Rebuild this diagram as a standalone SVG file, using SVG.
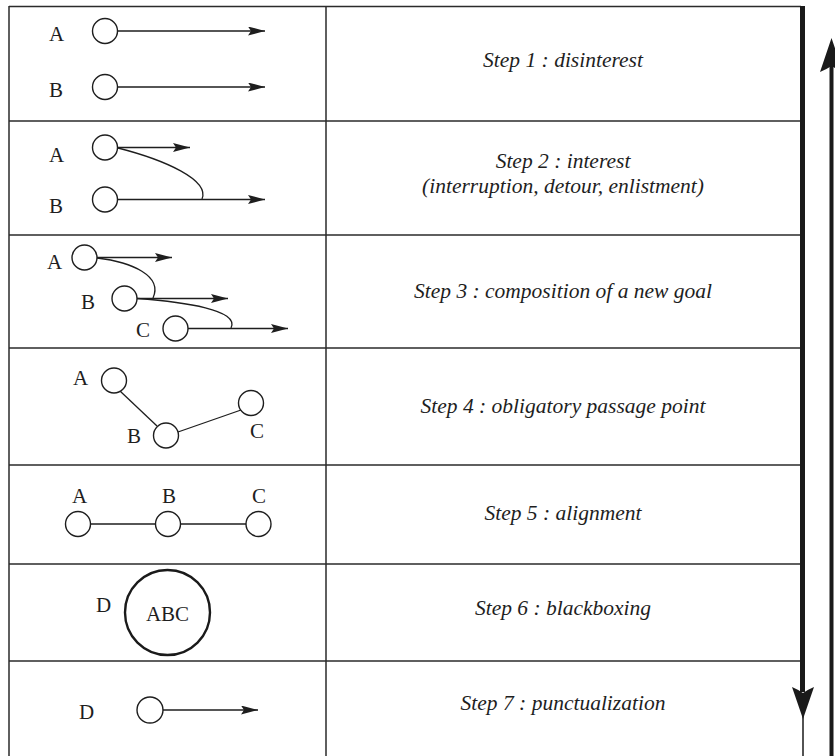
<svg xmlns="http://www.w3.org/2000/svg" width="835" height="756" viewBox="0 0 835 756">
  <style>
    .grid { stroke: #2b2b2b; stroke-width: 1.5; fill: none; }
    .node { fill: #fff; stroke: #1e1e1e; stroke-width: 1.4; }
    .big { fill: #fff; stroke: #1a1a1a; stroke-width: 2.4; }
    .link { stroke: #1e1e1e; stroke-width: 1.3; fill: none; }
    .lbl { font-family: "Liberation Serif", "Times New Roman", serif; font-size: 21px; fill: #1e1e1e; }
    .step { font-family: "Liberation Serif", "Times New Roman", serif; font-style: italic; font-size: 21.5px; fill: #1e1e1e; text-anchor: middle; }
  </style>
  <defs>
    <marker id="head" viewBox="0 0 17 9" refX="17" refY="4.5" markerWidth="17" markerHeight="9" markerUnits="userSpaceOnUse" orient="auto">
      <path d="M0,0 L17,4.5 L0,9 L3,4.5 Z" fill="#1e1e1e"/>
    </marker>
  </defs>

  <rect width="835" height="756" fill="#fff"/>

  <!-- table frame -->
  <g id="table">
    <path class="grid" d="M9,6.5 H801 M9,6 V756 M326,6 V756"/>
    <path class="grid" d="M9,121 H801 M9,235 H801 M9,348 H801 M9,465 H801 M9,564 H801 M9,661 H801"/>
  </g>

  <!-- side arrows: thick downward border, upward arrow at far right -->
  <g id="side-arrows">
    <line x1="802.5" y1="6" x2="802.5" y2="692" stroke="#1a1a1a" stroke-width="5"/>
    <path d="M792,687 Q799,690 803,693 Q807,690 814,687 L803,719 Z" fill="#1a1a1a"/>
    <line x1="803" y1="715" x2="803" y2="756" stroke="#1a1a1a" stroke-width="1.5"/>
    <line x1="831.5" y1="66" x2="831.5" y2="756" stroke="#1a1a1a" stroke-width="4"/>
    <path d="M820,72 Q827,69 831.5,66 Q836,69 843,72 L831.5,38 Z" fill="#1a1a1a"/>
  </g>

  <!-- step 1 -->
  <g id="step1">
    <text class="lbl" x="49" y="41">A</text>
    <text class="lbl" x="49" y="97">B</text>
    <line class="link" x1="117" y1="31" x2="265" y2="31" marker-end="url(#head)"/>
    <line class="link" x1="117" y1="87" x2="265" y2="87" marker-end="url(#head)"/>
    <circle class="node" cx="105" cy="31" r="12.5"/>
    <circle class="node" cx="105" cy="87" r="12.5"/>
    <text class="step" x="563" y="67">Step 1 : disinterest</text>
  </g>

  <!-- step 2 -->
  <g id="step2">
    <text class="lbl" x="49" y="162">A</text>
    <text class="lbl" x="49" y="213">B</text>
    <line class="link" x1="117" y1="147.5" x2="190" y2="147.5" marker-end="url(#head)"/>
    <path class="link" d="M118,148 C165,160 210,180 202,199"/>
    <line class="link" x1="117" y1="199.5" x2="265" y2="199.5" marker-end="url(#head)"/>
    <circle class="node" cx="105" cy="147.5" r="12.5"/>
    <circle class="node" cx="105" cy="199.5" r="12.5"/>
    <text class="step" x="563" y="168">Step 2 : interest</text>
    <text class="step" x="563" y="193">(interruption, detour, enlistment)</text>
  </g>

  <!-- step 3 -->
  <g id="step3">
    <text class="lbl" x="47" y="269">A</text>
    <text class="lbl" x="81" y="309">B</text>
    <text class="lbl" x="136" y="337">C</text>
    <line class="link" x1="97" y1="257.5" x2="172" y2="257.5" marker-end="url(#head)"/>
    <path class="link" d="M97,258 C132,262 163,276 153,298"/>
    <line class="link" x1="137" y1="298.5" x2="228" y2="298.5" marker-end="url(#head)"/>
    <path class="link" d="M137,298.5 C185,302 240,310 231,328"/>
    <line class="link" x1="188" y1="328.5" x2="288" y2="328.5" stroke-width="2" marker-end="url(#head)"/>
    <circle class="node" cx="84.5" cy="257.5" r="12.5"/>
    <circle class="node" cx="124.5" cy="298.5" r="12.5"/>
    <circle class="node" cx="175.5" cy="328.5" r="12.5"/>
    <text class="step" x="563" y="298">Step 3 : composition of a new goal</text>
  </g>

  <!-- step 4 -->
  <g id="step4">
    <text class="lbl" x="73" y="385">A</text>
    <text class="lbl" x="127" y="443">B</text>
    <text class="lbl" x="250" y="438">C</text>
    <line class="link" x1="120" y1="391" x2="157" y2="426"/>
    <line class="link" x1="178" y1="432" x2="241" y2="410"/>
    <circle class="node" cx="114" cy="380.5" r="12.5"/>
    <circle class="node" cx="166" cy="435.5" r="12.5"/>
    <circle class="node" cx="251" cy="403" r="12.5"/>
    <text class="step" x="563" y="413">Step 4 : obligatory passage point</text>
  </g>

  <!-- step 5 -->
  <g id="step5">
    <text class="lbl" x="72" y="503">A</text>
    <text class="lbl" x="162" y="503">B</text>
    <text class="lbl" x="252" y="503">C</text>
    <line class="link" x1="90" y1="524" x2="246" y2="524"/>
    <circle class="node" cx="78" cy="524" r="12.5"/>
    <circle class="node" cx="168" cy="524" r="12.5"/>
    <circle class="node" cx="258.5" cy="524" r="12.5"/>
    <text class="step" x="563" y="520">Step 5 : alignment</text>
  </g>

  <!-- step 6 -->
  <g id="step6">
    <text class="lbl" x="96" y="612">D</text>
    <circle class="big" cx="167.5" cy="612.5" r="42.5"/>
    <text class="lbl" x="167.5" y="621" text-anchor="middle">ABC</text>
    <text class="step" x="563" y="615">Step 6 : blackboxing</text>
  </g>

  <!-- step 7 -->
  <g id="step7">
    <text class="lbl" x="79" y="719">D</text>
    <line class="link" x1="162" y1="710" x2="258" y2="710" marker-end="url(#head)"/>
    <circle class="node" cx="150" cy="710" r="13"/>
    <text class="step" x="563" y="710">Step 7 : punctualization</text>
  </g>
</svg>
